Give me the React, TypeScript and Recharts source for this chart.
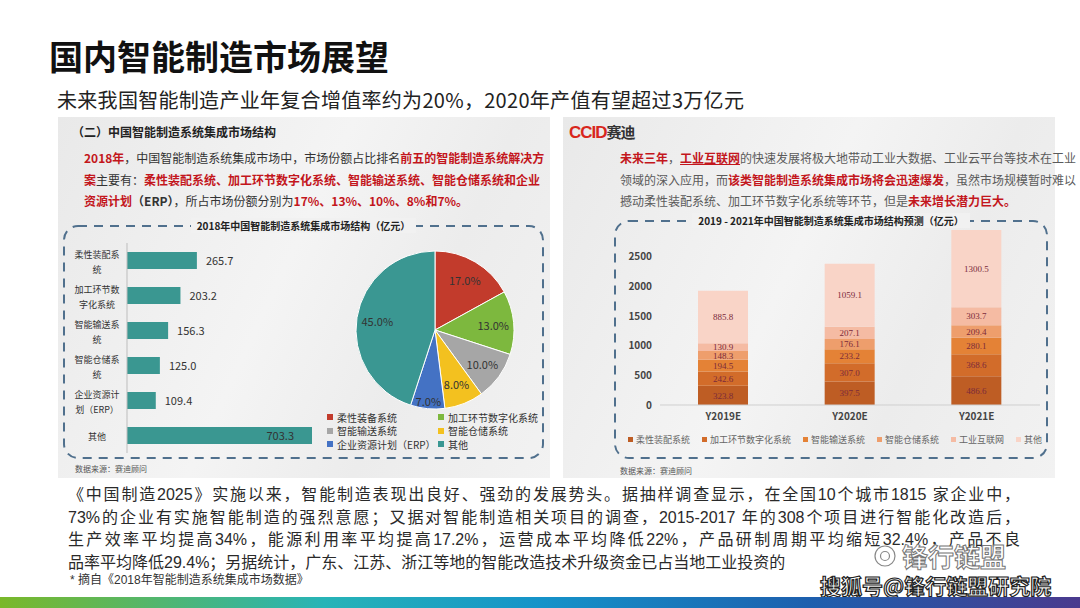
import React from 'react';
import { BarChart, Bar, XAxis, YAxis, PieChart, Pie, Cell, LabelList } from 'recharts';

// 2018 市场结构（亿元）
const systemNames = ['柔性装配系统', '加工环节数字化系统', '智能输送系统', '智能仓储系统', '企业资源计划（ERP）', '其他'];
const marketValues2018 = [265.7, 203.2, 156.3, 125.0, 109.4, 703.3];
const pieLegendNames = ['柔性装备系统', '加工环节数字化系统', '智能输送系统', '智能仓储系统', '企业资源计划（ERP）', '其他'];
const pieColors = ['#c23b2c', '#7db83e', '#a6a6a6', '#f3c11f', '#4472c4', '#3a9792'];

// 2019-2021 预测（亿元）
const forecastYears = ['Y2019E', 'Y2020E', 'Y2021E'];
const flexible = [323.8, 397.5, 486.6];
const digital = [242.6, 307.0, 368.6];
const conveying = [194.5, 233.2, 280.1];
const storage = [148.3, 176.1, 209.4];
const internet = [130.9, 207.1, 303.7];
const others = [885.8, 1059.1, 1300.5];
const forecastSeries = [
  { key: 'flexible', name: '柔性装配系统', color: '#be5d24' },
  { key: 'digital', name: '加工环节数字化系统', color: '#d26c2a' },
  { key: 'conveying', name: '智能输送系统', color: '#e48236' },
  { key: 'storage', name: '智能仓储系统', color: '#ee9e6c' },
  { key: 'internet', name: '工业互联网', color: '#f5bba3' },
  { key: 'others', name: '其他', color: '#f9d4c7' },
];
const forecastTicks = [0, 500, 1000, 1500, 2000, 2500];

const marketData = systemNames.map((name, i) => ({ name, value: marketValues2018[i] }));
const pieData = pieLegendNames.map((name, i) => ({ name, value: marketValues2018[i] }));
const forecastData = forecastYears.map((year, i) => ({
  year,
  flexible: flexible[i],
  digital: digital[i],
  conveying: conveying[i],
  storage: storage[i],
  internet: internet[i],
  others: others[i],
}));

const RADIAN = Math.PI / 180;
const CJK = '"Noto Sans CJK SC", "Noto Sans", sans-serif';
const BODY = '"Liberation Sans", "Noto Sans CJK SC", sans-serif';
const RED = '#c3161c';

function Txt({ x, cy, size, lh, children, style }: any) {
  const h = lh ?? Math.round(size * 1.4);
  return (
    <div
      style={{
        position: 'absolute', left: x, top: cy - h / 2, fontSize: size,
        lineHeight: `${h}px`, whiteSpace: 'nowrap', ...style,
      }}
    >
      {children}
    </div>
  );
}

const R = ({ children, b = true }: any) => (
  <span style={{ color: RED, fontWeight: b ? 700 : 400 }}>{children}</span>
);

function DashedBox({ x, y, w, h }: any) {
  return (
    <svg style={{ position: 'absolute', left: x - 2, top: y - 2 }} width={w + 4} height={h + 4}>
      <rect x={2} y={2} width={w} height={h} rx={14} fill="none" stroke="#50708d" strokeWidth={2} strokeDasharray="9 7" />
    </svg>
  );
}

function WrappedTick({ x, y, payload }: any) {
  const s: string = payload.value;
  const lines = s.length > 5 ? [s.slice(0, 5), s.slice(5)] : [s];
  const cx = x - 30;
  return (
    <text x={cx} y={y} textAnchor="middle" fontSize={9} fill="#333" fontFamily={CJK}>
      {lines.map((l, i) => (
        <tspan key={i} x={cx} dy={i === 0 ? (lines.length === 1 ? 4 : -3) : 15}>{l}</tspan>
      ))}
    </text>
  );
}

function renderBarValue(props: any) {
  const { x, y, width, height, value } = props;
  const inside = value === Math.max(...marketValues2018);
  return (
    <text
      x={inside ? x + width - 18 : x + width + 9}
      y={y + height / 2 + 4}
      textAnchor={inside ? 'end' : 'start'}
      fontSize={11}
      fill="#333"
      fontFamily={CJK}
    >
      {Number(value).toFixed(1)}
    </text>
  );
}

function renderPieLabel({ cx, cy, midAngle, outerRadius, percent }: any) {
  const r = outerRadius * (percent < 0.075 ? 0.9 : 0.74);
  const x = cx + r * Math.cos(-midAngle * RADIAN);
  const y = cy + r * Math.sin(-midAngle * RADIAN);
  return (
    <text x={x} y={y} textAnchor="middle" dominantBaseline="central" fontSize={11} fill="#333" fontFamily={CJK}>
      {(percent * 100).toFixed(1)}%
    </text>
  );
}

const panelBg = 'linear-gradient(115deg, #e9e9e9 0%, #f4f4f4 45%, #ececec 70%, #f2f2f2 100%)';
const boxTitle = {
  background: '#f1f1f1', padding: '0 6px', fontWeight: 700, color: '#222',
};

export default function App() {
  return (
    <div
      style={{
        position: 'absolute', left: 0, top: 0, width: 1080, height: 608,
        background: '#fff', overflow: 'hidden', fontFamily: CJK, color: '#222',
      }}
    >
      {/* 标题 */}
      <Txt x={49} cy={56} size={34} style={{ fontWeight: 700, color: '#111' }}>
        国内智能制造市场展望
      </Txt>
      <Txt x={57} cy={100} size={20} style={{ color: '#222', letterSpacing: 0.3 }}>
        未来我国智能制造产业年复合增值率约为20%，2020年产值有望超过3万亿元
      </Txt>

      {/* 左图 */}
      <div style={{ position: 'absolute', left: 58, top: 117, width: 492, height: 361, background: panelBg }} />
      <Txt x={72} cy={131} size={12} style={{ fontWeight: 700, color: '#222' }}>
        （二）中国智能制造系统集成市场结构
      </Txt>
      {[
        <><R>2018年</R>，中国智能制造系统集成市场中，市场份额占比排名<R>前五的智能制造系统解决方</R></>,
        <><R>案</R>主要有：<R>柔性装配系统、加工环节数字化系统、智能输送系统、智能仓储系统和企业</R></>,
        <><R>资源计划</R><b>（ERP）</b>，所占市场份额分别为<R>17%、13%、10%、8%和7%。</R></>,
      ].map((line, i) => (
        <Txt
          key={i}
          x={84}
          cy={158 + i * 21.5}
          size={12}
          lh={18}
          style={{ width: 443, color: '#333', textAlign: 'justify', textAlignLast: i < 2 ? 'justify' : 'left' }}
        >
          {line}
        </Txt>
      ))}
      <DashedBox x={64} y={226} w={479} h={232} />
      <div style={{ position: 'absolute', left: 64, width: 479, top: 218, textAlign: 'center', fontSize: 10, lineHeight: '16px' }}>
        <span style={boxTitle}>2018年中国智能制造系统集成市场结构（亿元）</span>
      </div>

      <div style={{ position: 'absolute', left: 65, top: 243 }}>
        <BarChart layout="vertical" width={247} height={210} data={marketData} margin={{ top: 0, right: 0, bottom: 0, left: 0 }}>
          <XAxis type="number" hide domain={[0, 'dataMax']} />
          <YAxis
            type="category"
            dataKey="name"
            width={62}
            interval={0}
            tickLine={false}
            tickSize={0}
            tickMargin={0}
            axisLine={{ stroke: '#bdbdbd' }}
            tick={WrappedTick}
          />
          <Bar dataKey="value" fill="#3a9791" barSize={17} isAnimationActive={false}>
            <LabelList dataKey="value" content={renderBarValue} />
          </Bar>
        </BarChart>
      </div>

      <div style={{ position: 'absolute', left: 340, top: 235 }}>
        <PieChart width={180} height={180}>
          <Pie
            data={pieData}
            dataKey="value"
            nameKey="name"
            cx={90}
            cy={90}
            outerRadius={79}
            startAngle={90}
            endAngle={-270}
            stroke="#fff"
            strokeWidth={1}
            labelLine={false}
            label={renderPieLabel}
            isAnimationActive={false}
          >
            {pieData.map((_, i) => (
              <Cell key={`cell-${i}`} fill={pieColors[i]} />
            ))}
          </Pie>
        </PieChart>
      </div>

      {/* 饼图图例 */}
      {pieLegendNames.map((name, i) => (
        <div
          key={name}
          style={{
            position: 'absolute', left: i % 2 === 0 ? 327 : 438, top: 417 + Math.floor(i / 2) * 13.5 - 7,
            height: 14, display: 'flex', alignItems: 'center', fontSize: 10, color: '#333', whiteSpace: 'nowrap',
          }}
        >
          <span style={{ width: 6, height: 6, background: pieColors[i], marginRight: 4 }} />
          {name}
        </div>
      ))}
      <Txt x={75} cy={468} size={8} lh={11} style={{ color: '#555' }}>数据来源：赛迪顾问</Txt>

      {/* 右图 */}
      <div style={{ position: 'absolute', left: 563, top: 117, width: 492, height: 361, background: panelBg }} />
      <Txt x={569} cy={131} size={17} style={{ fontWeight: 700, letterSpacing: -1 }}>
        <span style={{ color: '#d8261c', fontFamily: '"Liberation Sans", Arial, sans-serif' }}>CCID</span>
        <span style={{ color: '#333', fontSize: 15 }}>赛迪</span>
      </Txt>
      {[
        <><R>未来三年</R>，<R><u>工业互联网</u></R>的快速发展将极大地带动工业大数据、工业云平台等技术在工业</>,
        <>领域的深入应用，而<R>该类智能制造系统集成市场将会迅速爆发</R>，虽然市场规模暂时难以</>,
        <>撼动柔性装配系统、加工环节数字化系统等环节，但是<R>未来增长潜力巨大。</R></>,
      ].map((line, i) => (
        <Txt
          key={i}
          x={620}
          cy={158 + i * 21.5}
          size={12}
          lh={18}
          style={{ width: 415, color: '#5a5a5a', textAlign: 'justify', textAlignLast: i < 2 ? 'justify' : 'left' }}
        >
          {line}
        </Txt>
      ))}
      <DashedBox x={615} y={221} w={432} h={237} />
      <div style={{ position: 'absolute', left: 615, width: 432, top: 213, textAlign: 'center', fontSize: 10, lineHeight: '16px' }}>
        <span style={boxTitle}>2019 - 2021年中国智能制造系统集成市场结构预测（亿元）</span>
      </div>

      <div style={{ position: 'absolute', left: 620, top: 222 }}>
        <BarChart width={425} height={203} data={forecastData} margin={{ top: 5, right: 5, bottom: 0, left: 0 }} barSize={50}>
          <XAxis
            dataKey="year"
            height={20}
            tickLine={false}
            axisLine={{ stroke: '#cfcfcf' }}
            tick={{ fontSize: 10, fill: '#444', fontWeight: 700 }}
          />
          <YAxis
            domain={[0, 3000]}
            ticks={forecastTicks}
            width={40}
            axisLine={false}
            tickLine={false}
            tick={{ fontSize: 10, fill: '#444', fontWeight: 700 }}
          />
          {forecastSeries.map(s => (
            <Bar key={s.key} dataKey={s.key} name={s.name} stackId="a" fill={s.color} isAnimationActive={false}>
              <LabelList
                dataKey={s.key}
                position="center"
                formatter={(v: any) => Number(v).toFixed(1)}
                style={{ fontSize: 9, fill: '#7b2a3b', fontFamily: '"Liberation Serif", serif' }}
              />
            </Bar>
          ))}
        </BarChart>
      </div>

      {/* 堆叠图图例 */}
      <div
        style={{
          position: 'absolute', left: 628, top: 432, height: 14, display: 'flex', alignItems: 'center',
          gap: 12, fontSize: 9, color: '#666', whiteSpace: 'nowrap',
        }}
      >
        {forecastSeries.map(s => (
          <span key={s.key} style={{ display: 'flex', alignItems: 'center' }}>
            <span style={{ width: 5, height: 5, background: s.color, marginRight: 3 }} />
            {s.name}
          </span>
        ))}
      </div>
      <Txt x={620} cy={470} size={8} lh={11} style={{ color: '#555' }}>数据来源：赛迪顾问</Txt>

      {/* 正文 */}
      {[
        '《中国制造2025》实施以来，智能制造表现出良好、强劲的发展势头。据抽样调查显示，在全国10个城市1815 家企业中，',
        '73%的企业有实施智能制造的强烈意愿；又据对智能制造相关项目的调查，2015-2017 年的308个项目进行智能化改造后，',
        '生产效率平均提高34%，能源利用率平均提高17.2%，运营成本平均降低22%，产品研制周期平均缩短32.4%，产品不良',
        '品率平均降低29.4%；另据统计，广东、江苏、浙江等地的智能改造技术升级资金已占当地工业投资的',
      ].map((line, i) => (
        <Txt
          key={i}
          x={68}
          cy={495 + i * 22.7}
          size={16}
          lh={20}
          style={{
            fontFamily: BODY,
            width: i < 3 ? 952 : undefined, color: '#2a2a2a',
            textAlign: 'justify', textAlignLast: i < 3 ? 'justify' : 'left',
          }}
        >
          {line}
        </Txt>
      ))}
      <Txt x={70} cy={580} size={12} lh={15} style={{ color: '#333', fontFamily: BODY }}>
        * 摘自《2018年智能制造系统集成市场数据》
      </Txt>

      {/* 水印 */}
      <svg style={{ position: 'absolute', left: 872, top: 543 }} width={26} height={26}>
        <circle cx={13} cy={13} r={10} fill="rgba(255,255,255,0.5)" stroke="#888" strokeWidth={1.2} />
        <circle cx={13} cy={13} r={4.5} fill="none" stroke="#888" strokeWidth={1.2} />
      </svg>
      <Txt x={902} cy={556} size={26} lh={24} style={{ color: 'rgba(255,255,255,0.7)', WebkitTextStroke: '1px #777', fontWeight: 700 }}>
        锋行链盟
      </Txt>
      <Txt x={820} cy={585} size={21} lh={20} style={{ color: '#fff', WebkitTextStroke: '1.2px #222', fontWeight: 700 }}>
        搜狐号@锋行链盟研究院
      </Txt>

      <div
        style={{
          position: 'absolute', left: 0, top: 597, width: 1080, height: 11,
          background: 'linear-gradient(90deg, #7ab829 0%, #27b4b7 30%, #1593c9 50%, #1d5fae 75%, #4a3a8e 100%)',
        }}
      />
    </div>
  );
}
